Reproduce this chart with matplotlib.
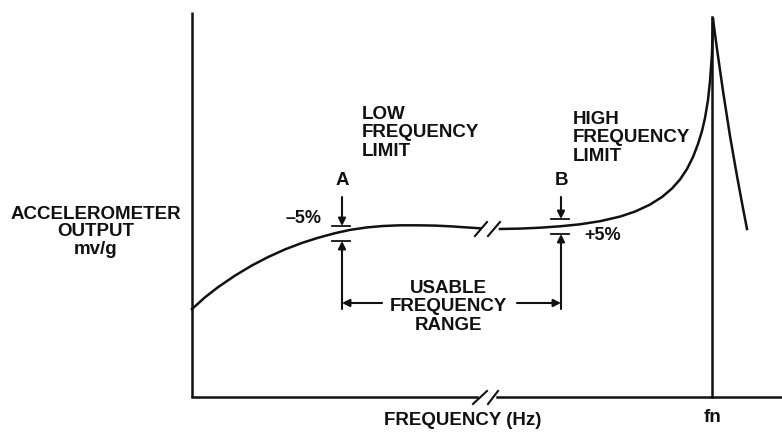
"""Accelerometer frequency response sketch: usable range between the -5% / +5% limits."""
import matplotlib

matplotlib.use("Agg")
import matplotlib.pyplot as plt

INK = "#111111"
FONT = "Liberation Sans"

# Response curve (drawing units: x to the right, y downwards)
low_freq = [192, 205, 218, 235, 252, 268, 285, 302, 318, 335, 350, 367, 383, 400, 417, 435, 450, 465, 480]
low_out = [310, 298.3, 288.2, 276.6, 266.4, 258.1, 250.4, 243.9, 238.8, 234.2, 230.9, 228.4,
           227, 226.3, 226.3, 226.6, 227.3, 228.3, 229.3]
high_freq = [500, 520, 540, 560, 580, 600, 620, 635, 650, 662, 672, 680, 687, 693, 698, 702,
             705, 708, 710, 712, 713]
high_out = [230, 229.6, 228.7, 227.3, 225.3, 222.2, 217.6, 212.6, 205.6, 198, 189.5, 180.5,
            170, 158, 145, 132, 119, 101, 82, 55, 20]
fall_freq = [713, 717, 723, 730, 737, 742, 747]
fall_out = [20, 50, 92, 137, 177, 204, 230]

# Axes frame and break marks
y_axis_x = [192, 192]
y_axis_y = [13, 398]
x_axis_left = [192, 477]
x_axis_right = [497, 782]
x_axis_y = 398
fn_x = 712
break_slashes_axis = [((473, 405), (487, 392)), ((488, 405), (498, 392))]
break_slashes_curve = [((475, 237), (487, 223)), ((488, 237), (500, 223))]

fig = plt.figure(figsize=(7.82, 4.35), dpi=100)
ax = fig.add_axes([0, 0, 1, 1])
ax.set_xlim(0, 782)
ax.set_ylim(435, 0)
ax.axis("off")

lw = 1.8
ax.plot(y_axis_x, y_axis_y, color=INK, lw=lw, solid_capstyle="butt")
ax.plot(x_axis_left, [x_axis_y] * 2, color=INK, lw=lw)
ax.plot(x_axis_right, [x_axis_y] * 2, color=INK, lw=lw)
ax.plot([fn_x, fn_x], [18, x_axis_y], color=INK, lw=lw)
for (x0, y0), (x1, y1) in break_slashes_axis + break_slashes_curve:
    ax.plot([x0, x1], [y0, y1], color=INK, lw=1.5)

ax.plot(low_freq, low_out, color=INK, lw=lw, solid_joinstyle="round")
ax.plot(high_freq, high_out, color=INK, lw=lw, solid_joinstyle="round")
ax.plot(fall_freq, fall_out, color=INK, lw=lw, solid_joinstyle="round")


def arrow(x0, y0, x1, y1):
    ax.annotate("", xy=(x1, y1), xytext=(x0, y0),
                arrowprops=dict(arrowstyle="-|>", color=INK, lw=1.5,
                                mutation_scale=11, shrinkA=0, shrinkB=0))


def text(x, y, s, ha="center", va="center", size=13.5, spacing=1.15):
    ax.text(x, y, s, ha=ha, va=va, fontsize=size, color=INK, family=FONT,
            fontweight="bold", linespacing=spacing)


# Limit A (-5%) and limit B (+5%)
for x, top, bottom in [(342, 227, 242), (561, 220, 235)]:
    ax.plot([x - 10, x + 8], [top, top], color=INK, lw=1.3)
    ax.plot([x - 10, x + 8], [bottom, bottom], color=INK, lw=1.3)
    arrow(x, 198, x, top)
    arrow(x, 310, x, bottom)
arrow(382, 304, 342, 304)
arrow(517, 304, 561, 304)

text(342, 181, "A")
text(562, 181, "B")
text(321, 219, "\u20135%", ha="right", size=13)
text(584, 236, "+5%", ha="left", size=13)

text(362, 133, "LOW\nFREQUENCY\nLIMIT", ha="left")
text(573, 138, "HIGH\nFREQUENCY\nLIMIT", ha="left")
text(448, 307, "USABLE\nFREQUENCY\nRANGE")
text(96, 232, "ACCELEROMETER\nOUTPUT\nmv/g", spacing=1.05)
text(463, 421, "FREQUENCY (Hz)")
text(713, 418, "fn")

fig.savefig("out.png", dpi=100)
